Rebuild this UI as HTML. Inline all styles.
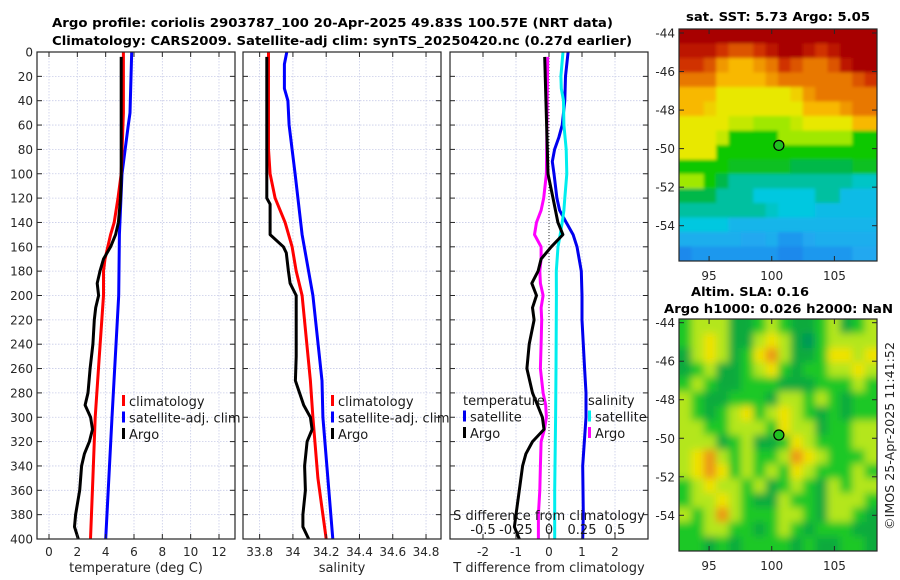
<!DOCTYPE html>
<html><head><meta charset="utf-8">
<style>
html,body{margin:0;padding:0;background:#fff;}
svg{display:block;font-family:"DejaVu Sans","Liberation Sans",sans-serif;}
</style></head>
<body>
<svg id="fig" width="900" height="580" viewBox="0 0 900 580" xmlns="http://www.w3.org/2000/svg">
<defs>
<clipPath id="cp1"><rect x="37" y="52" width="198" height="487"/></clipPath>
<clipPath id="cp2"><rect x="243" y="52" width="198" height="487"/></clipPath>
<clipPath id="cp3"><rect x="450" y="52" width="198" height="487"/></clipPath>
<clipPath id="cpm1"><rect x="679" y="29" width="198" height="232"/></clipPath>
<clipPath id="cpm2"><rect x="679" y="319" width="198" height="232"/></clipPath>
<filter id="blur" filterUnits="userSpaceOnUse" x="660" y="300" width="240" height="270"><feGaussianBlur stdDeviation="4"/></filter>
<filter id="blur2" filterUnits="userSpaceOnUse" x="660" y="10" width="240" height="270"><feGaussianBlur stdDeviation="1.5"/></filter>
</defs>
<g font-weight="bold" font-size="12" fill="#000">
<text x="52" y="27" textLength="561" lengthAdjust="spacingAndGlyphs">Argo profile: coriolis 2903787_100 20-Apr-2025 49.83S 100.57E (NRT data)</text>
<text x="52" y="45" textLength="580" lengthAdjust="spacingAndGlyphs">Climatology: CARS2009. Satellite-adj clim: synTS_20250420.nc (0.27d earlier)</text>
</g>
<g id="layer"></g>
<text x="686" y="21" font-weight="bold" font-size="12" textLength="184" lengthAdjust="spacingAndGlyphs">sat. SST: 5.73 Argo: 5.05</text>
<text x="691" y="296" font-weight="bold" font-size="12" textLength="118" lengthAdjust="spacingAndGlyphs">Altim. SLA: 0.16</text>
<text x="664" y="313" font-weight="bold" font-size="12" textLength="229" lengthAdjust="spacingAndGlyphs">Argo h1000: 0.026 h2000: NaN</text>
<text transform="translate(894,436) rotate(-90)" text-anchor="middle" font-size="12.5" fill="#262626" textLength="188" lengthAdjust="spacingAndGlyphs">©IMOS 25-Apr-2025 11:41:52</text>
</svg>
<script>
// ---- profile data ----
const depthTA=[4,20,40,60,80,100,110,120,130,140,150,160,170,180,190,200,210,220,240,260,280,290,300,310,320,330,340,360,380,390,400];
const tempArgo=[5.1,5.1,5.1,5.1,5.1,5.1,5.08,5.05,4.98,4.9,4.7,4.35,3.85,3.6,3.4,3.5,3.3,3.2,3.1,2.9,2.75,2.55,2.94,3.07,2.85,2.5,2.3,2.17,1.88,1.8,2.07];
const depthTC=[0,50,100,120,140,150,160,170,180,200,250,300,350,400];
const tempClim=[5.25,5.25,5.1,4.87,4.6,4.35,4.15,3.95,3.85,3.85,3.55,3.26,3.1,2.93];
const depthTS=[0,50,60,100,150,200,300,400];
const tempSat=[5.84,5.72,5.6,5.15,4.97,4.92,4.45,4.0];

const depthSA=[4,60,120,125,150,160,165,180,190,200,220,250,270,290,300,310,320,340,360,380,390,400];
const salArgo=[33.843,33.843,33.843,33.863,33.863,33.943,33.96,33.973,33.983,34.02,34.02,34.02,34.015,34.065,34.105,34.115,34.085,34.07,34.075,34.06,34.06,34.095];
const depthSC=[0,80,100,120,140,160,180,200,270,300,350,400];
const salClim=[33.853,33.853,33.863,33.893,33.953,33.995,34.02,34.055,34.105,34.12,34.15,34.2];
const depthSS=[0,10,30,40,60,100,150,200,270,300,400];
const salSat=[33.963,33.949,33.949,33.97,33.977,34.013,34.055,34.12,34.175,34.18,34.24];

const depthDTA=[4,100,120,140,150,160,170,180,190,200,210,220,240,260,280,290,300,310,320,330,340,360,380,390,400];
const dTArgo=[-0.13,-0.03,0.12,0.27,0.42,0.07,-0.24,-0.33,-0.52,-0.38,-0.5,-0.45,-0.6,-0.67,-0.5,-0.35,-0.2,-0.15,-0.5,-0.7,-0.8,-0.9,-1.0,-1.05,-0.9];
const depthDSA=[4,100,120,130,140,150,160,170,180,190,200,210,220,240,260,280,290,300,310,320,340,360,380,400];
const dSArgo=[-0.01,-0.02,-0.04,-0.06,-0.095,-0.11,-0.06,-0.06,-0.07,-0.065,-0.045,-0.06,-0.055,-0.06,-0.065,-0.045,-0.025,-0.02,-0.035,-0.06,-0.065,-0.07,-0.08,-0.08];
const depthDTS=[0,20,40,60,70,80,90,100,120,130,140,150,160,180,200,220,260,280,300,340,380,400];
const dTSat=[0.58,0.5,0.48,0.4,0.3,0.17,0.1,0.15,0.24,0.32,0.52,0.73,0.85,0.98,1.0,1.0,1.08,1.12,1.12,1.02,1.04,1.02];
const depthDSS=[0,20,30,40,60,80,100,120,130,140,150,160,180,200,260,300,360,400];
const dSSat=[0.106,0.09,0.093,0.11,0.113,0.13,0.135,0.12,0.113,0.1,0.085,0.068,0.055,0.056,0.053,0.05,0.043,0.043];

const depthTicks=[0,20,40,60,80,100,120,140,160,180,200,220,240,260,280,300,320,340,360,380,400];
const tempTicks=[0,2,4,6,8,10,12];
const salTicks=[33.8,34,34.2,34.4,34.6,34.8];
const salTickLabels=["33.8","34","34.2","34.4","34.6","34.8"];
const dTTicks=[-2,-1,0,1,2];
const dSTicks=[-0.5,-0.25,0,0.25,0.5];
const dSTickLabels=["-0.5","-0.25","0","0.25","0.5"];

// ---- map data ----
const sstGrid=[
[9,9,9,9,9,9,9,9,9,9,9,9,9,9,9,9],
[8.5,8.5,8.5,8,7.5,7.5,8,8.5,9,9,8.5,8,8.5,9,9,9],
[8,8,7.5,6.5,6,6,6.5,7,8,7.5,7,7,7.5,8.5,9,9],
[7,7,7,6,6,6,6,6.5,7,7,7,7,7,7,7.5,8],
[6,6,6,5,5,5,5,5,5,5.5,6.5,7,7,7,7,7],
[6,6,5.5,5,5,5,5,5,5,5,6,6,6,6.5,7,7],
[5,5,5,5,4.5,4.5,4,4,4,4.5,5,5,5,5,6,6],
[5,5,5,4.5,3,3,3,3,4,4,4,4,4,4,3,3],
[5,5,5,3,3,3,3,3,3,3,3,3,3,3,3,3],
[3,3,3,3,2.5,2.5,2.5,2.5,2.5,2,2,2,2,2,2.5,2.5],
[4,4,3,2,1.5,1.5,1.5,1.5,1.5,1.5,1.5,1.5,1.5,1.5,1.2,1.2],
[2,2,2,1.5,1.5,1.5,1,1,1,1,1,1.5,1.5,0.8,0.8,0.8],
[1.5,1.5,1.5,1.5,1.5,1.5,1.5,1.2,1,1,1,0.8,0.8,0.8,0.8,0.8],
[1,1,1,1,0.7,0.7,0.7,0.7,0.7,0.7,0.7,0.7,0.7,0.7,0.7,0.7],
[0.6,0.6,0.6,0.6,0.6,0.5,0.5,0.6,0.4,0.4,0.5,0.6,0.6,0.6,0.6,0.6],
[0.3,0.4,0.4,0.4,0.4,0.4,0.4,0.4,0.3,0.3,0.4,0.4,0.4,0.4,0.5,0.5]];
const slaGrid=[
[1.5,2,2,2,1,1,1.5,2,1.5,1,1,1.5,2,1,1.5,2],
[1.5,2,2.5,2,1,1,2,2.5,2,1,0.5,1.5,2,2,2,2],
[1,2,2.5,2,1,1.5,2.5,3,2,1,1,1.5,2.5,2.5,2,2.5],
[1,1.5,2,1,1,1.5,2,2.5,1.5,1,1.5,1.5,2,2,2.5,2],
[1.5,2,1.5,1,1,1.5,1.5,1.5,1,1,1,1.5,1.5,1.5,2,1.5],
[2,1.5,1,1,1.5,1.5,1.5,1,2,2,1.5,2,1.5,1,1.5,1.5],
[2,1.5,1,1.5,2,2.5,1.5,2,2.5,2,1.5,1,1.5,1,1.5,1.5],
[2,2,1.5,1.5,2,2,2,1.5,2.5,2,2,1,1.5,1.5,2,2],
[2,2,2,1,1.5,2,1,1,1.5,2.5,2,1.5,1.5,1.5,2,2],
[2,2.5,3,2,1.5,2,1.5,1.5,2,3,2.5,2,1.5,1.5,1.5,2],
[2,2.5,3,2.5,1.5,2,1.5,2,1.5,2.5,2,1.5,1.5,1.5,2,1.5],
[1.5,2,2.5,2,2,1.5,2,1,1.5,2,1.5,1,2,1.5,2,2],
[1.5,2,2,2.5,2,1.5,1,1,2,1.5,1.5,1,2,2,2,1.5],
[2,1.5,2,3,2,1.5,1.5,1.5,2,2,1.5,1,2,2,1.5,1],
[1.5,1.5,2,2,1.5,1.5,1,1.5,2,1.5,1,1.5,1.5,1.5,1,1],
[1.5,1.5,1,1.5,1,1.5,1.5,1.5,1.5,1,1.5,1,1,1.5,1.5,1]];
const lonTicks=[95,100,105];
const latTicks=[-44,-46,-48,-50,-52,-54];
const argoLon=[100.57];
const argoLat=[-49.83];

const NS="http://www.w3.org/2000/svg";
const layer=document.getElementById('layer');
function mk(tag,attrs,parent){const e=document.createElementNS(NS,tag);for(const k in attrs)e.setAttribute(k,attrs[k]);(parent||layer).appendChild(e);return e;}

const Y0=52,Y1=539;
function yD(d){return Y0+(d/400)*(Y1-Y0);}
function scaleX(x0,x1,v0,v1){return v=>x0+(v-v0)/(v1-v0)*(x1-x0);}

const P1={x0:37,x1:235,f:scaleX(37,235,-0.847,13.13)};
const P2={x0:243,x1:441,f:scaleX(243,441,33.70,34.89)};
const P3={x0:450,x1:648,f:scaleX(450,648,-3,3)};
const fS=scaleX(450,648,-0.75,0.75);

function grid(P,xt,xf){
  const g=mk('g',{});
  
  
  depthTicks.forEach(d=>{if(d>0&&d<400){const l=mk('line',{x1:P.x0,x2:P.x1,y1:yD(d),y2:yD(d),stroke:'#c8cce8','stroke-width':0.8,'stroke-dasharray':'1.5,1.5'},g);
    }});
  xt.forEach(v=>{const x=xf(v);const l=mk('line',{x1:x,x2:x,y1:Y0,y2:Y1,stroke:'#c8cce8','stroke-width':0.8,'stroke-dasharray':'1.5,1.5'},g);
    });
}
function frame(P,xt,xf,labels,xlabel,showY){
  const g=mk('g',{});
  
  
  mk('rect',{x:P.x0,y:Y0,width:P.x1-P.x0,height:Y1-Y0,fill:'none',stroke:'#262626','stroke-width':1.2},g);
  depthTicks.forEach(d=>{const y=yD(d);
    mk('line',{x1:P.x0,x2:P.x0+5,y1:y,y2:y,stroke:'#262626'},g);
    mk('line',{x1:P.x1-5,x2:P.x1,y1:y,y2:y,stroke:'#262626'},g);
    if(showY){const t=mk('text',{x:P.x0-4,y:y+4.5,'text-anchor':'end','font-size':12,fill:'#262626'},g);t.textContent=d;
      }
  });
  xt.forEach((v,i)=>{const x=xf(v);
    mk('line',{x1:x,x2:x,y1:Y1,y2:Y1-5,stroke:'#262626'},g);
    mk('line',{x1:x,x2:x,y1:Y0,y2:Y0+5,stroke:'#262626'},g);
    const t=mk('text',{x:x,y:556,'text-anchor':'middle','font-size':12,fill:'#262626'},g);t.textContent=labels[i];
    
  });
  const t=mk('text',{x:(P.x0+P.x1)/2,y:572,'text-anchor':'middle','font-size':13,fill:'#262626'},g);t.textContent=xlabel;
  
}
function line(xs,ds,xf,color,name,clip,w){
  const pts=xs.map((v,i)=>xf(v).toFixed(1)+','+yD(ds[i]).toFixed(1)).join(' ');
  const p=mk('polyline',{points:pts,fill:'none',stroke:color,'stroke-width':w||3,'stroke-linejoin':'round','clip-path':'url(#'+clip+')'});
  
  
}
function legend(x,y0,items){
  items.forEach((it,i)=>{const y=y0+i*16.5;
    if(it.c){const r=mk('rect',{x:x,y:y-6,width:3,height:11,fill:it.c});
      }
    const t=mk('text',{x:x+(it.c?7:0),y:y+5,'font-size':13,fill:'#1a1a1a'});t.textContent=it.t;
    
  });
}

// Panel 1
grid(P1,tempTicks,P1.f);
line(tempSat,depthTS,P1.f,'#0000ff','temp-satellite-line','cp1');
line(tempClim,depthTC,P1.f,'#ff0000','temp-climatology-line','cp1');
line(tempArgo,depthTA,P1.f,'#000000','temp-argo-line','cp1');
frame(P1,tempTicks,P1.f,tempTicks.map(String),'temperature (deg C)',true);
legend(122,401,[{c:'#ff0000',t:'climatology'},{c:'#0000ff',t:'satellite-adj. clim'},{c:'#000',t:'Argo'}]);

// Panel 2
grid(P2,salTicks,P2.f);
line(salSat,depthSS,P2.f,'#0000ff','sal-satellite-line','cp2');
line(salClim,depthSC,P2.f,'#ff0000','sal-climatology-line','cp2');
line(salArgo,depthSA,P2.f,'#000000','sal-argo-line','cp2');
frame(P2,salTicks,P2.f,salTickLabels,'salinity',false);
legend(331,401,[{c:'#ff0000',t:'climatology'},{c:'#0000ff',t:'satellite-adj. clim'},{c:'#000',t:'Argo'}]);

// Panel 3
grid(P3,dTTicks,P3.f);
const zl=mk('line',{x1:P3.f(0),x2:P3.f(0),y1:Y0,y2:Y1,stroke:'#333','stroke-width':1,'stroke-dasharray':'1,2'});


line(dTSat,depthDTS,P3.f,'#0000ee','dT-satellite-line','cp3');
line(dSSat,depthDSS,fS,'#00eeee','dS-satellite-line','cp3');
line(dSArgo,depthDSA,fS,'#ff00ff','dS-argo-line','cp3');
line(dTArgo,depthDTA,P3.f,'#000000','dT-argo-line','cp3');
frame(P3,dTTicks,P3.f,dTTicks.map(String),'T difference from climatology',false);
legend(463,400,[{t:'temperature'},{c:'#0000ee',t:'satellite'},{c:'#000',t:'Argo'}]);
legend(588,400,[{t:'salinity'},{c:'#00eeee',t:'satellite'},{c:'#ff00ff',t:'Argo'}]);
const st=mk('text',{x:549,y:520,'text-anchor':'middle','font-size':13,fill:'#1a1a1a'});st.textContent='S difference from climatology';


dSTicks.forEach((v,i)=>{const t=mk('text',{x:fS(v),y:534,'text-anchor':'middle','font-size':13,fill:'#1a1a1a'});t.textContent=dSTickLabels[i];
  
  });

// ---- maps ----
const lonS=scaleX(679,877,92.6,108.4);
function latS1(v){return 33+(-44-v)*19.27;}
function latS2(v){return 322.7+(-44-v)*19.26;}
const sstStops=[[0,[26,90,230]],[0.5,[32,168,240]],[1,[0,200,224]],[1.5,[0,192,160]],[2,[0,184,72]],[3,[16,200,0]],[4,[160,232,0]],[5,[232,232,0]],[6,[248,184,0]],[7,[232,120,0]],[8,[208,48,0]],[9,[168,0,0]]];
const slaStops=[[0.5,[0,150,90]],[1,[10,170,60]],[1.5,[30,200,40]],[2,[180,230,30]],[2.5,[240,226,0]],[3,[236,150,20]]];
function cmap(stops,v){if(v<=stops[0][0])return 'rgb('+stops[0][1]+')';
  for(let i=1;i<stops.length;i++){if(v<=stops[i][0]){const a=stops[i-1],b=stops[i],t=(v-a[0])/(b[0]-a[0]);
    return 'rgb('+a[1].map((c,k)=>Math.round(c+(b[1][k]-c)*t)).join(',')+')';}}
  return 'rgb('+stops[stops.length-1][1]+')';}
function drawMap(grid,stops,y0,clip,name,filt,latS,bg){
  const g=mk('g',{'clip-path':'url(#'+clip+')'});
  
  
  const inner=mk('g',{filter:'url(#'+filt+')'},g);
  const nr=grid.length,nc=grid[0].length,cw=198/nc,ch=232/nr;
  mk('rect',{x:669,y:y0-10,width:218,height:252,fill:cmap(stops,bg)},inner);
  grid.forEach((row,r)=>row.forEach((v,c)=>{
    const cell=mk('rect',{x:679+c*cw-(c==0?10:0),y:y0+r*ch-(r==0?10:0),width:cw+0.6+(c==0||c==nc-1?10:0),height:ch+0.6+(r==0||r==nr-1?10:0),fill:cmap(stops,v)},inner);
    
    
  }));
  const ax=mk('g',{});
  
  
  mk('rect',{x:679,y:y0,width:198,height:232,fill:'none',stroke:'#262626','stroke-width':1.2},ax);
  lonTicks.forEach(v=>{const x=lonS(v);
    mk('line',{x1:x,x2:x,y1:y0+232,y2:y0+227,stroke:'#262626'},ax);
    mk('line',{x1:x,x2:x,y1:y0,y2:y0+5,stroke:'#262626'},ax);
    const t=mk('text',{x:x,y:y0+251,'text-anchor':'middle','font-size':12,fill:'#262626'},ax);t.textContent=v;
    });
  latTicks.forEach(v=>{const y=latS(v);
    mk('line',{x1:679,x2:684,y1:y,y2:y,stroke:'#262626'},ax);
    mk('line',{x1:872,x2:877,y1:y,y2:y,stroke:'#262626'},ax);
    const t=mk('text',{x:675,y:y+4.5,'text-anchor':'end','font-size':12,fill:'#262626'},ax);t.textContent=v;
    });
  argoLon.forEach((lo,i)=>{const m=mk('circle',{cx:lonS(lo),cy:latS(argoLat[i]),r:5,fill:'#20c020',stroke:'#000','stroke-width':1.2});
    });
}
drawMap(sstGrid,sstStops,29,'cpm1','sst-map','blur2',latS1,5);
drawMap(slaGrid,slaStops,319,'cpm2','sla-map','blur',latS2,1.5);
</script>
</body></html>
